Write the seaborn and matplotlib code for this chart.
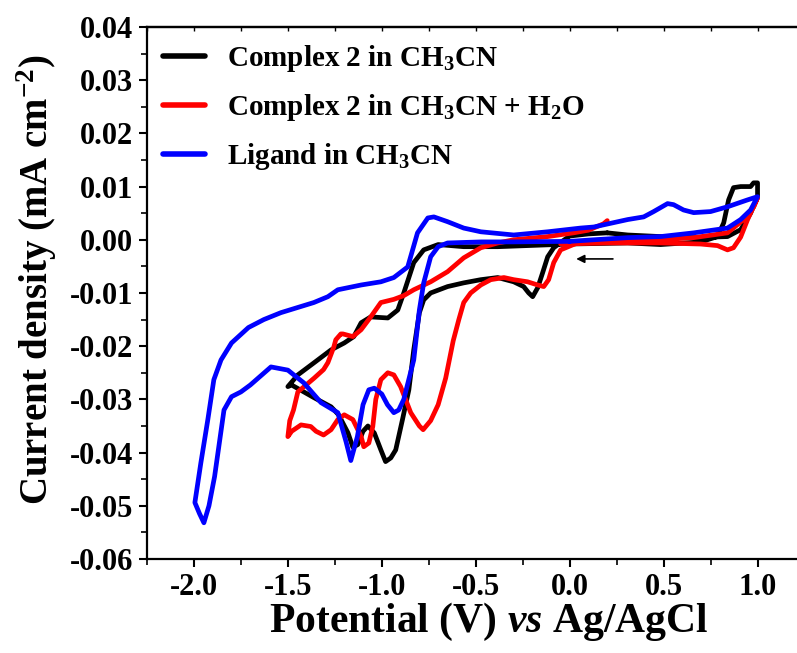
import numpy as np
import pandas as pd
import matplotlib
matplotlib.use("Agg")
import matplotlib.pyplot as plt
import seaborn as sns
from matplotlib.ticker import MultipleLocator, FormatStrFormatter, NullFormatter

# ---- data ----
black_x = [0.2, 0.1, 0.0, -0.04, -0.085, -0.117, -0.144, -0.17, -0.197, -0.218, -0.245, -0.298, -0.383,
           -0.473, -0.564, -0.65, -0.74, -0.777, -0.80, -0.83, -0.856, -0.89, -0.926, -0.952, -0.98,
           -1.005, -1.04, -1.074, -1.10, -1.128, -1.154, -1.18, -1.23, -1.27, -1.36, -1.48, -1.50,
           -1.447, -1.36, -1.27, -1.20, -1.149, -1.11, -1.059, -0.968, -0.915, -0.883, -0.83, -0.777,
           -0.70, -0.564, -0.383, 0.0, 0.309, 0.484, 0.697, 0.787, 0.82, 0.846, 0.872, 0.91, 0.963,
           0.979, 1.0, 1.0, 0.963, 0.91, 0.84, 0.66, 0.484, 0.309, 0.2]
black_y = [0.0013, 0.0011, 0.0007, -0.0003, -0.0015, -0.0032, -0.0062, -0.009, -0.0107, -0.010, -0.0088,
           -0.0079, -0.0071, -0.0075, -0.0081, -0.0088, -0.010, -0.0113, -0.0137, -0.0207, -0.0282,
           -0.0338, -0.0395, -0.041, -0.0417, -0.0395, -0.0363, -0.035, -0.036, -0.0385, -0.039,
           -0.0363, -0.0329, -0.0314, -0.0297, -0.0273, -0.0276, -0.0254, -0.0231, -0.0207, -0.0194,
           -0.0182, -0.0156, -0.0145, -0.0147, -0.0132, -0.0100, -0.0043, -0.0019, -0.0009, -0.0013,
           -0.0013, -0.0008, -0.0006, -0.0009, -0.0004, 0.0006, 0.0032, 0.0075, 0.0098, 0.010, 0.010,
           0.0107, 0.0107, 0.0081, 0.005, 0.0019, 0.0006, 0.0004, 0.0006, 0.0009, 0.0013]

red_x = [-0.048, 0.2, 0.484, 0.697, 0.787, 0.84, 0.872, 0.91, 0.947, 1.0,
         0.98, 0.926, 0.84, 0.66, 0.484, 0.2, 0.05, 0.02, -0.048, -0.085, -0.112, -0.138, -0.17,
         -0.224, -0.298, -0.35, -0.42, -0.473, -0.527, -0.564, -0.59, -0.62, -0.66, -0.70, -0.74,
         -0.78, -0.80, -0.846, -0.90, -0.936, -0.968, -1.005, -1.032, -1.048, -1.069, -1.096, -1.11,
         -1.154, -1.20, -1.234, -1.27, -1.31, -1.35, -1.378, -1.43, -1.48, -1.50,
         -1.49, -1.47, -1.447, -1.36, -1.31, -1.287, -1.255, -1.245, -1.218, -1.207, -1.154, -1.11,
         -1.059, -1.005, -0.936, -0.883, -0.83, -0.74, -0.65, -0.564, -0.473, -0.383, -0.298,
         -0.117, 0.02, 0.1, 0.18, 0.2]
red_y = [-0.0008, -0.0006, -0.0006, -0.0008, -0.0011, -0.0019, -0.0015, 0.0005, 0.0038, 0.0079,
         0.0062, 0.0038, 0.0013, 0.0004, 0.0, -0.0003, -0.0005, -0.0009, -0.0019, -0.0043, -0.0075,
         -0.0088, -0.0085, -0.0079, -0.0075, -0.0071, -0.0075, -0.0085, -0.010, -0.0118, -0.015,
         -0.019, -0.026, -0.031, -0.034, -0.0357, -0.035, -0.0325, -0.0276, -0.0254, -0.025, -0.0263,
         -0.030, -0.0351, -0.0382, -0.0389, -0.037, -0.0338, -0.0329, -0.0338, -0.0357, -0.0367,
         -0.036, -0.0351, -0.0348, -0.036, -0.037,
         -0.034, -0.032, -0.0286, -0.026, -0.0244, -0.0231, -0.0201, -0.0188, -0.0177, -0.0177,
         -0.0182, -0.0169, -0.0145, -0.0118, -0.0112, -0.0105, -0.0094, -0.0079, -0.006, -0.0034,
         -0.0015, -0.0006, 0.0, 0.0006, 0.0013, 0.0018, 0.0030, 0.0036]

blue_x = [0.0, -0.3, -0.47, -0.65, -0.70, -0.74, -0.777, -0.80, -0.83, -0.883, -0.91, -0.936, -0.97,
          -1.0, -1.04, -1.069, -1.10, -1.13, -1.165, -1.19, -1.234, -1.324, -1.415, -1.50, -1.59,
          -1.70, -1.75, -1.80, -1.84, -1.89, -1.92, -1.947,
          -1.97, -1.995, -1.963, -1.926, -1.894, -1.856, -1.80, -1.71, -1.628, -1.537, -1.362,
          -1.287, -1.234, -1.11, -1.005, -0.936, -0.862, -0.81, -0.755, -0.723, -0.65, -0.564,
          -0.473, -0.298, -0.117, 0.058, 0.128, 0.309, 0.394, 0.447, 0.521, 0.553, 0.606, 0.66,
          0.75, 0.84, 0.947, 1.0,
          0.963, 0.91, 0.84, 0.66, 0.484, 0.309, 0.128, 0.0]
blue_y = [-0.0003, -0.0004, -0.0004, -0.0006, -0.0013, -0.0032, -0.0081, -0.0132, -0.0226, -0.030,
          -0.032, -0.0325, -0.031, -0.029, -0.0279, -0.0282, -0.031, -0.037, -0.0415, -0.038,
          -0.0325, -0.0306, -0.0269, -0.0245, -0.0239, -0.0273, -0.0286, -0.0295, -0.032, -0.0445,
          -0.050, -0.0532,
          -0.0515, -0.0494, -0.0419, -0.0338, -0.0263, -0.0226, -0.0194, -0.0165, -0.015, -0.0137,
          -0.0118, -0.0107, -0.0094, -0.0085, -0.0079, -0.0071, -0.0051, 0.0013, 0.0041, 0.0043,
          0.0034, 0.0022, 0.0015, 0.0009, 0.0015, 0.0022, 0.0024, 0.0038, 0.0043, 0.0053, 0.0068,
          0.0066, 0.0056, 0.0051, 0.0053, 0.0062, 0.0075, 0.0081,
          0.0056, 0.0038, 0.0022, 0.0013, 0.0006, 0.0004, 0.0, -0.0003]

labels = ["Complex 2 in CH$_3$CN", "Complex 2 in CH$_3$CN + H$_2$O", "Ligand in CH$_3$CN"]
colors = ["#000000", "#ff0000", "#0000ff"]

frames = []
for lab, xs, ys in zip(labels, [black_x, red_x, blue_x], [black_y, red_y, blue_y]):
    frames.append(pd.DataFrame({"E": xs, "J": ys, "series": lab, "order": np.arange(len(xs))}))
df = pd.concat(frames, ignore_index=True)

# ---- style ----
sns.set_style("ticks")
plt.rcParams["font.family"] = ["Liberation Serif", "DejaVu Serif"]
plt.rcParams["font.weight"] = "bold"
plt.rcParams["mathtext.fontset"] = "custom"
plt.rcParams["mathtext.rm"] = "Liberation Serif:bold"
plt.rcParams["mathtext.bf"] = "Liberation Serif:bold"
plt.rcParams["mathtext.it"] = "Liberation Serif:italic:bold"
plt.rcParams["axes.unicode_minus"] = False
for k in ["text.color", "axes.labelcolor", "xtick.color", "ytick.color", "axes.edgecolor"]:
    plt.rcParams[k] = "black"

fig = plt.figure(figsize=(7.97, 6.53), dpi=100)
ax = fig.add_axes([0.1844, 0.144, 0.8156, 0.8147])

sns.lineplot(data=df, x="E", y="J", hue="series", units="series", estimator=None, sort=False,
             palette=dict(zip(labels, colors)), hue_order=labels, linewidth=3.4, ax=ax)
for ln in ax.get_lines():
    ln.set_solid_joinstyle("round")
    ln.set_solid_capstyle("round")

ax.set_xlim(-2.25, 1.21)
ax.set_ylim(-0.06, 0.04)
ax.xaxis.set_major_locator(MultipleLocator(0.5))
ax.xaxis.set_minor_locator(MultipleLocator(0.25))
ax.yaxis.set_major_locator(MultipleLocator(0.01))
ax.yaxis.set_minor_locator(MultipleLocator(0.005))
ax.xaxis.set_major_formatter(FormatStrFormatter("%.1f"))
ax.yaxis.set_major_formatter(FormatStrFormatter("%.2f"))

ax.spines["right"].set_visible(False)
for s in ["left", "bottom", "top"]:
    ax.spines[s].set_linewidth(1.6)
ax.tick_params(axis="both", which="major", direction="out", length=6, width=1.5, labelsize=22, pad=4)
ax.tick_params(axis="both", which="minor", direction="out", length=4, width=1.2)

# small inward ticks on the top spine
top = ax.secondary_xaxis("top")
top.xaxis.set_major_locator(MultipleLocator(0.5))
top.xaxis.set_minor_locator(MultipleLocator(0.25))
top.xaxis.set_major_formatter(NullFormatter())
top.tick_params(which="both", direction="in", length=3, width=1.0)
top.spines["top"].set_linewidth(1.6)

ax.set_xlabel("Potential (V) $vs$ Ag/AgCl", fontsize=30, fontweight="bold")
ax.xaxis.set_label_coords(0.526, -0.078)
ax.set_ylabel("Current density (mA cm$^{-2}$)", fontsize=28, fontweight="bold")
ax.yaxis.set_label_coords(-0.135, 0.525)

# arrow showing scan direction
ax.annotate("", xy=(0.02, -0.0036), xytext=(0.245, -0.0036),
            arrowprops=dict(arrowstyle="-|>", color="black", lw=1.2, mutation_scale=12))

leg = ax.legend(loc="upper left", frameon=False, fontsize=21, handlelength=1.45,
                handletextpad=0.75, labelspacing=0.62, borderaxespad=0.15,
                bbox_to_anchor=(0.0, 1.0))
for line in leg.get_lines():
    line.set_linewidth(4)

fig.savefig("out.png", dpi=100)
